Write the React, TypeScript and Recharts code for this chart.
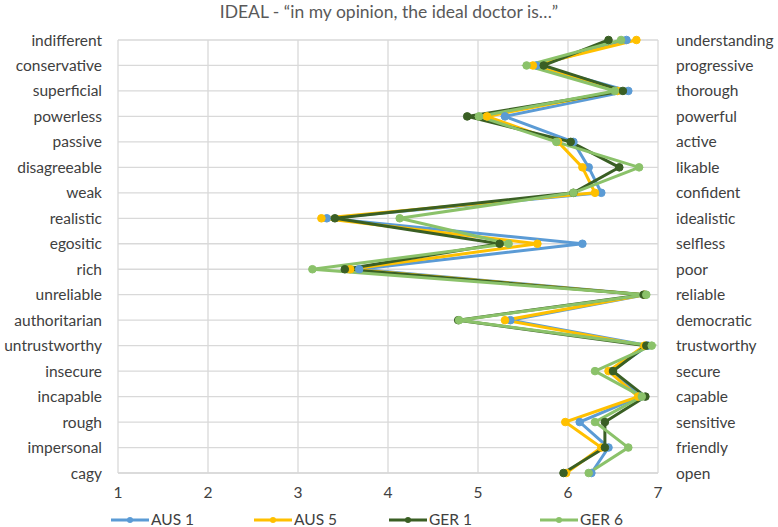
import React from "react";
import {
  LineChart,
  Line,
  XAxis,
  YAxis,
  CartesianGrid,
} from "recharts";

const leftLabels = [
  "indifferent", "conservative", "superficial", "powerless", "passive", "disagreeable",
  "weak", "realistic", "egositic", "rich", "unreliable", "authoritarian",
  "untrustworthy", "insecure", "incapable", "rough", "impersonal", "cagy",
];

const rightLabels = [
  "understanding", "progressive", "thorough", "powerful", "active", "likable",
  "confident", "idealistic", "selfless", "poor", "reliable", "democratic",
  "trustworthy", "secure", "capable", "sensitive", "friendly", "open",
];

const aus1 = [6.65, 5.65, 6.67, 5.3, 6.06, 6.23, 6.37, 3.32, 6.16, 3.68, 6.86, 5.36, 6.89, 6.48, 6.8, 6.13, 6.45, 6.26];
const aus5 = [6.76, 5.61, 6.55, 5.1, 5.89, 6.16, 6.3, 3.26, 5.66, 3.58, 6.85, 5.3, 6.85, 6.45, 6.78, 5.97, 6.37, 5.98];
const ger1 = [6.45, 5.73, 6.61, 4.88, 6.03, 6.57, 6.06, 3.41, 5.24, 3.52, 6.84, 4.78, 6.87, 6.5, 6.86, 6.41, 6.41, 5.95];
const ger6 = [6.59, 5.54, 6.52, 5.01, 5.87, 6.79, 6.06, 4.13, 5.34, 3.16, 6.87, 4.79, 6.93, 6.3, 6.82, 6.3, 6.67, 6.23];

const xTicks = [1, 2, 3, 4, 5, 6, 7];

const series = [
  { key: "aus1", name: "AUS 1", color: "#5B9BD5", legendX: 111 },
  { key: "aus5", name: "AUS 5", color: "#FFC000", legendX: 254 },
  { key: "ger1", name: "GER 1", color: "#3A5F24", legendX: 389 },
  { key: "ger6", name: "GER 6", color: "#8BC26A", legendX: 540 },
];

const data = leftLabels.map((l, i) => ({
  left: l,
  right: rightLabels[i],
  aus1: aus1[i],
  aus5: aus5[i],
  ger1: ger1[i],
  ger6: ger6[i],
}));

const font = "Lato, 'Open Sans', sans-serif";
const tickStyle = { fontSize: 15.5, fill: "#404040", fontFamily: font };

export default function App() {
  return (
    <div style={{ position: "absolute", left: 0, top: 0, width: 778, height: 527, background: "#fff", fontFamily: font }}>
      <div
        style={{
          position: "absolute",
          top: 0,
          left: 0,
          width: 778,
          textAlign: "center",
          fontSize: 17.5,
          color: "#595959",
          lineHeight: "24px",
        }}
      >
        IDEAL - “in my opinion, the ideal doctor is…”
      </div>
      <LineChart
        width={778}
        height={527}
        data={data}
        layout="vertical"
        margin={{ top: 40, right: 0, bottom: 0, left: 0 }}
      >
        <CartesianGrid stroke="#D9D9D9" strokeWidth={1.3} yAxisId="left" />
        <XAxis
          type="number"
          domain={[1, 7]}
          ticks={xTicks}
          height={54}
          tickSize={0}
          tickMargin={14}
          axisLine={{ stroke: "#D9D9D9", strokeWidth: 1.3 }}
          tick={tickStyle}
        />
        <YAxis
          yAxisId="left"
          type="category"
          dataKey="left"
          scale="point"
          width={118}
          tickSize={0}
          tickMargin={16}
          axisLine={false}
          interval={0}
          tick={tickStyle}
        />
        <YAxis
          yAxisId="right"
          orientation="right"
          type="category"
          dataKey="right"
          scale="point"
          width={120}
          tickSize={0}
          tickMargin={18}
          axisLine={false}
          interval={0}
          tick={tickStyle}
        />
        {series.map((s) => (
          <Line
            key={s.key}
            yAxisId="left"
            dataKey={s.key}
            name={s.name}
            type="linear"
            stroke={s.color}
            strokeWidth={3}
            dot={{ r: 3.8, fill: s.color, stroke: s.color, strokeWidth: 1 }}
            isAnimationActive={false}
          />
        ))}
      </LineChart>
      {series.map((s) => (
        <div
          key={s.key}
          style={{
            position: "absolute",
            left: s.legendX,
            top: 512,
            height: 15,
            lineHeight: "15px",
            display: "flex",
            alignItems: "center",
            fontSize: 15.5,
            color: "#404040",
          }}
        >
          <svg width={38} height={10} style={{ marginRight: 2 }}>
            <line x1={0} y1={5} x2={38} y2={5} stroke={s.color} strokeWidth={3} />
            <circle cx={19} cy={5} r={3} fill={s.color} />
          </svg>
          {s.name}
        </div>
      ))}
    </div>
  );
}
